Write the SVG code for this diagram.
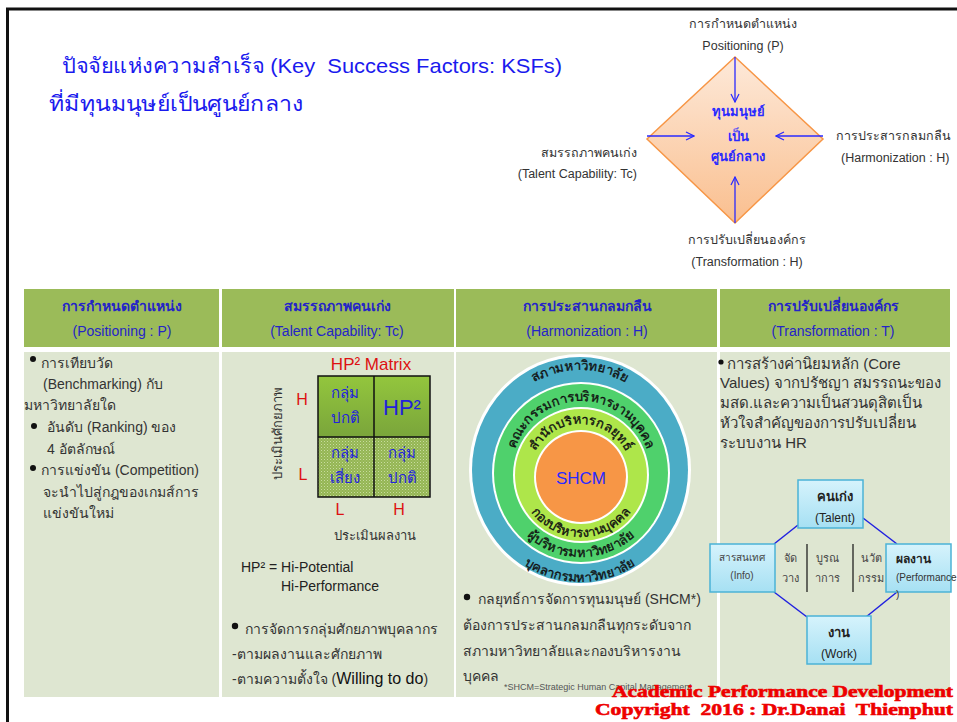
<svg xmlns="http://www.w3.org/2000/svg" width="957" height="722" viewBox="0 0 957 722">
<style>
text{font-family:"Liberation Sans","Noto Sans","DejaVu Sans",sans-serif;}
.title{font-size:21px;fill:#1a1aee;}
.lbl{font-size:12.5px;fill:#333;}
.hd{font-size:14px;fill:#2424c8;text-anchor:middle;}
.hdb{font-weight:bold;}
.body{font-size:14px;fill:#333;}
.b4{font-size:15px;fill:#333;}
.dark{fill:#222;}
.red{fill:#d11;}
.blue{fill:#2222dd;}
.mid{text-anchor:middle;}
.arc{font-size:13px;fill:#111;stroke:#111;stroke-width:0.35;}
.conn line{stroke:#2020e0;stroke-width:1.5;fill:none;}
.box{fill:url(#gBox);stroke:#4bb3d6;stroke-width:1.5;}
.small{font-size:11px;fill:#444;}
.copy{font-family:"Liberation Serif","DejaVu Serif",serif;font-weight:bold;font-size:17px;fill:#ee0000;stroke:#ee0000;stroke-width:0.6;}
</style>
<defs>
<linearGradient id="gDia" x1="0" y1="0" x2="0" y2="1">
<stop offset="0" stop-color="#fde9d9"/>
<stop offset="1" stop-color="#fabf8f"/>
</linearGradient>
<linearGradient id="gTop" x1="0" y1="0" x2="0" y2="1">
<stop offset="0" stop-color="#93c63d"/>
<stop offset="1" stop-color="#7aa53b"/>
</linearGradient>
<linearGradient id="gBox" x1="0" y1="0" x2="0" y2="1">
<stop offset="0" stop-color="#d6f3fc"/>
<stop offset="1" stop-color="#a6e0f3"/>
</linearGradient>
<pattern id="pDot" width="3" height="3" patternUnits="userSpaceOnUse">
<rect width="3" height="3" fill="#94b654"/>
<rect x="0" y="0" width="1" height="1" fill="#c9dc9f"/>
<rect x="1.5" y="1.5" width="1" height="1" fill="#b3cc7c"/>
</pattern>
<marker id="arr" viewBox="0 0 10 10" refX="9" refY="5" markerWidth="10" markerHeight="10" markerUnits="userSpaceOnUse" orient="auto">
<path d="M1,1 L9,5 L1,9" fill="none" stroke="#2a2aff" stroke-width="1.2"/>
</marker>
<path id="aT1" d="M485,470 A95,100 0 0 1 675,470"/>
<path id="aB1" d="M474,470 A106,112 0 0 0 686,470"/>
<path id="aT2" d="M511,473 A70,72 0 0 1 651,473"/>
<path id="aB2" d="M499,473 A82,84 0 0 0 663,473"/>
<path id="aT3" d="M530,475 A51,51 0 0 1 632,475"/>
<path id="aB3" d="M519,475 A62,62 0 0 0 643,475"/>
</defs>

<rect width="957" height="722" fill="#fff"/>
<!-- frame -->
<path d="M7.5,722 V9 H957" fill="none" stroke="#111" stroke-width="3"/>

<!-- title -->
<g id="title">
<text class="title" x="62" y="73" xml:space="preserve" textLength="500" lengthAdjust="spacingAndGlyphs">ปัจจัยแห่งความสำเร็จ (Key  Success Factors: KSFs)</text>
<text class="title" x="49" y="111" textLength="254" lengthAdjust="spacingAndGlyphs">ที่มีทุนมนุษย์เป็นศูนย์กลาง</text>
</g>

<!-- diamond -->
<g id="center">
<polygon points="735,57 823,139 735,223 647,139" fill="url(#gDia)" stroke="#f79646" stroke-width="1.5"/>
<text class="mid" x="738" y="116" style="font-size:13px;font-weight:bold;fill:#2a2aff">ทุนมนุษย์</text>
<text class="mid" x="738" y="141" style="font-size:13px;font-weight:bold;fill:#2a2aff">เป็น</text>
<text class="mid" x="738" y="161" style="font-size:13px;font-weight:bold;fill:#2a2aff">ศูนย์กลาง</text>
</g>
<g id="lblP"><text class="lbl mid" x="743" y="28">การกำหนดตำแหน่ง</text><text class="lbl mid" x="743" y="50">Positioning (P)</text></g>
<g id="lblT"><text class="lbl" x="637" y="157" text-anchor="end">สมรรถภาพคนเก่ง</text><text class="lbl" x="637" y="178" text-anchor="end">(Talent Capability: Tc)</text></g>
<g id="lblH"><text class="lbl" x="836" y="140">การประสารกลมกลืน</text><text class="lbl" x="841" y="162">(Harmonization : H)</text></g>
<g id="lblTr"><text class="lbl mid" x="747" y="244">การปรับเปลี่ยนองค์กร</text><text class="lbl mid" x="747" y="266">(Transformation : H)</text></g>
<g id="arrows" stroke="#2a2aff" stroke-width="1.3" fill="none">
<line x1="735" y1="57" x2="735" y2="102" marker-end="url(#arr)"/>
<line x1="647" y1="136" x2="694" y2="136" marker-end="url(#arr)"/>
<line x1="823" y1="136" x2="776" y2="136" marker-end="url(#arr)"/>
<line x1="735" y1="223" x2="735" y2="177" marker-end="url(#arr)"/>
</g>

<!-- table -->
<g id="table">
<rect x="24" y="289" width="195" height="58" fill="#9bbb59"/>
<rect x="222" y="289" width="232" height="58" fill="#9bbb59"/>
<rect x="456" y="289" width="261" height="58" fill="#9bbb59"/>
<rect x="720" y="289" width="230" height="58" fill="#9bbb59"/>
<rect x="24" y="352" width="195" height="345" fill="#dee6d1"/>
<rect x="222" y="352" width="232" height="345" fill="#dee6d1"/>
<rect x="456" y="352" width="261" height="345" fill="#dee6d1"/>
<rect x="720" y="352" width="230" height="345" fill="#dee6d1"/>
<text class="hd hdb" x="122" y="311">การกำหนดตำแหน่ง</text><text class="hd" x="122" y="336">(Positioning : P)</text>
<text class="hd hdb" x="337" y="311">สมรรถภาพคนเก่ง</text><text class="hd" x="337" y="336">(Talent Capability: Tc)</text>
<text class="hd hdb" x="587" y="311">การประสานกลมกลืน</text><text class="hd" x="587" y="336">(Harmonization : H)</text>
<text class="hd hdb" x="833" y="311">การปรับเปลี่ยนองค์กร</text><text class="hd" x="833" y="336">(Transformation : T)</text>
</g>

<!-- column 1 -->
<g id="col1" class="body">
<circle cx="33" cy="359" r="3" fill="#111"/>
<text class="body" x="41" y="368">การเทียบวัด</text>
<text class="body" x="43" y="389">(Benchmarking) กับ</text>
<text class="body" x="24" y="410">มหาวิทยาลัยใด</text>
<circle cx="34" cy="426" r="3" fill="#111"/>
<text class="body" x="47" y="432">อันดับ (Ranking) ของ</text>
<text class="body" x="47" y="454">4 อัตลักษณ์</text>
<circle cx="33" cy="468" r="3" fill="#111"/>
<text class="body" x="41" y="475">การแข่งขัน (Competition)</text>
<text class="body" x="43" y="497">จะนำไปสู่กฎของเกมส์การ</text>
<text class="body" x="43" y="518">แข่งขันใหม่</text>
</g>

<!-- column 2 : HP2 matrix -->
<g id="matrix">
<text class="red mid" x="371" y="370" style="font-size:17px">HP² Matrix</text>
<rect x="318" y="376" width="112" height="61" fill="url(#gTop)"/>
<rect x="318" y="437" width="112" height="60" fill="url(#pDot)"/>
<path d="M318,376 H430 V497 H318 Z M374,376 V497 M318,437 H430" fill="none" stroke="#111" stroke-width="1.5"/>
<g class="blue" style="font-size:15px" text-anchor="middle">
<text x="345" y="398">กลุ่ม</text><text x="345" y="423">ปกติ</text>
<text x="402" y="415" style="font-size:22px">HP²</text>
<text x="345" y="458">กลุ่ม</text><text x="345" y="483">เสี่ยง</text>
<text x="402" y="458">กลุ่ม</text><text x="402" y="483">ปกติ</text>
</g>
<g class="red" style="font-size:16px" text-anchor="middle">
<text x="302" y="405">H</text><text x="303" y="480">L</text>
<text x="340" y="515">L</text><text x="399" y="515">H</text>
</g>
<text class="mid" transform="translate(282,433) rotate(-90)" style="font-size:13px;fill:#333">ประเมินศักยภาพ</text>
<text class="mid" x="375" y="540" style="font-size:13px;fill:#333">ประเมินผลงาน</text>
<text class="body dark" x="241" y="572">HP² = Hi-Potential</text>
<text class="body dark" x="281" y="591">Hi-Performance</text>
<circle cx="235" cy="626" r="3.2" fill="#111"/>
<text class="body" x="245" y="634">การจัดการกลุ่มศักยภาพบุคลากร</text>
<text class="body" x="232" y="659">-ตามผลงานและศักยภาพ</text>
<text class="body" x="232" y="684">-ตามความตั้งใจ (<tspan style="font-size:16px;fill:#111">Willing to do</tspan>)</text>
</g>

<!-- column 3 : circles -->
<g id="rings">
<ellipse cx="580" cy="470" rx="111" ry="116" fill="#fff"/>
<ellipse cx="580" cy="470" rx="108" ry="113" fill="#4bacc6"/>
<ellipse cx="581" cy="473" rx="89" ry="91" fill="#fff"/>
<ellipse cx="581" cy="473" rx="87" ry="89" fill="#4fd16c"/>
<circle cx="581" cy="475" r="68" fill="#fff"/>
<circle cx="581" cy="475" r="66" fill="#aee64a"/>
<circle cx="581" cy="477" r="47" fill="#fff"/>
<circle cx="581" cy="477" r="45" fill="#f79646"/>
<text class="arc"><textPath href="#aT1" startOffset="50%" text-anchor="middle">สภามหาวิทยาลัย</textPath></text>
<text class="arc"><textPath href="#aB1" startOffset="50%" text-anchor="middle">บุคลากรมหาวิทยาลัย</textPath></text>
<text class="arc"><textPath href="#aT2" startOffset="50%" text-anchor="middle">คณะกรรมการบริหารงานบุคคล</textPath></text>
<text class="arc"><textPath href="#aB2" startOffset="50%" text-anchor="middle">ผู้บริหารมหาวิทยาลัย</textPath></text>
<text class="arc"><textPath href="#aT3" startOffset="50%" text-anchor="middle">สำนักบริหารกลยุทธ์</textPath></text>
<text class="arc"><textPath href="#aB3" startOffset="50%" text-anchor="middle">กองบริหารงานบุคคล</textPath></text>
<text class="mid" x="581" y="484" style="font-size:17px;fill:#2a2aff">SHCM</text>
</g>
<g id="col3text">
<circle cx="467" cy="597" r="3.2" fill="#111"/>
<text class="body" x="478" y="604">กลยุทธ์การจัดการทุนมนุษย์ (SHCM*)</text>
<text class="body" x="463" y="630">ต้องการประสานกลมกลืนทุกระดับจาก</text>
<text class="body" x="463" y="656">สภามหาวิทยาลัยและกองบริหารงาน</text>
<text class="body" x="463" y="681">บุคคล</text>
<text x="504" y="690" style="font-size:9px;fill:#555">*SHCM=Strategic Human Capital Management</text>
</g>

<!-- column 4 -->
<g id="col4text">
<circle cx="721" cy="362" r="2.6" fill="#111"/>
<text class="b4" x="727" y="369">การสร้างค่านิยมหลัก (Core</text>
<text class="b4" x="720" y="388">Values) จากปรัชญา สมรรถนะของ</text>
<text class="b4" x="720" y="408">มสด.และความเป็นสวนดุสิตเป็น</text>
<text class="b4" x="720" y="428">หัวใจสำคัญของการปรับเปลี่ยน</text>
<text class="b4" x="720" y="448">ระบบงาน HR</text>
</g>
<g id="connectors" class="conn">
<line x1="798" y1="525" x2="774" y2="544"/>
<line x1="863" y1="518" x2="897" y2="544"/>
<line x1="774" y1="592" x2="807" y2="617"/>
<line x1="897" y1="592" x2="866" y2="617"/>
</g>
<g id="nTalent">
<rect class="box" x="798" y="480" width="65" height="48"/>
<text class="mid" x="835" y="501" style="font-size:13px;font-weight:bold;fill:#222">คนเก่ง</text>
<text class="mid" x="835" y="522" style="font-size:12px;fill:#222">(Talent)</text>
</g>
<g id="nInfo">
<rect class="box" x="710" y="544" width="65" height="48"/>
<text class="mid" x="742" y="561" style="font-size:10px;fill:#444">สารสนเทศ</text>
<text class="mid" x="742" y="579" style="font-size:10px;fill:#444">(Info)</text>
</g>
<g id="nPerf">
<rect class="box" x="886" y="544" width="65" height="48"/>
<text x="896" y="563" style="font-size:12px;font-weight:bold;fill:#222">ผลงาน</text>
<text x="896" y="581" style="font-size:10px;fill:#333">(Performance</text>
<text x="896" y="598" style="font-size:10px;fill:#333">)</text>
</g>
<g id="nWork">
<rect class="box" x="807" y="616" width="64" height="48"/>
<text class="mid" x="839" y="637" style="font-size:13px;font-weight:bold;fill:#222">งาน</text>
<text class="mid" x="839" y="658" style="font-size:12px;fill:#222">(Work)</text>
</g>
<g id="midtext" class="small">
<text class="small mid" x="790" y="562">จัด</text><text class="small mid" x="790" y="582">วาง</text>
<text class="small mid" x="827" y="562">บูรณ</text><text class="small mid" x="827" y="582">าการ</text>
<text class="small mid" x="871" y="562">นวัต</text><text class="small mid" x="871" y="582">กรรม</text>
<line x1="807" y1="544" x2="807" y2="592" stroke="#111" stroke-width="1.2"/>
<line x1="853" y1="544" x2="853" y2="592" stroke="#111" stroke-width="1.2"/>
</g>

<!-- copyright -->
<g id="copyright">
<text class="copy" x="953" y="697" text-anchor="end" textLength="341" lengthAdjust="spacingAndGlyphs">Academic Performance Development</text>
<text class="copy" x="953" y="715" text-anchor="end" xml:space="preserve" textLength="358" lengthAdjust="spacingAndGlyphs">Copyright  2016 : Dr.Danai  Thienphut</text>
</g>
</svg>
